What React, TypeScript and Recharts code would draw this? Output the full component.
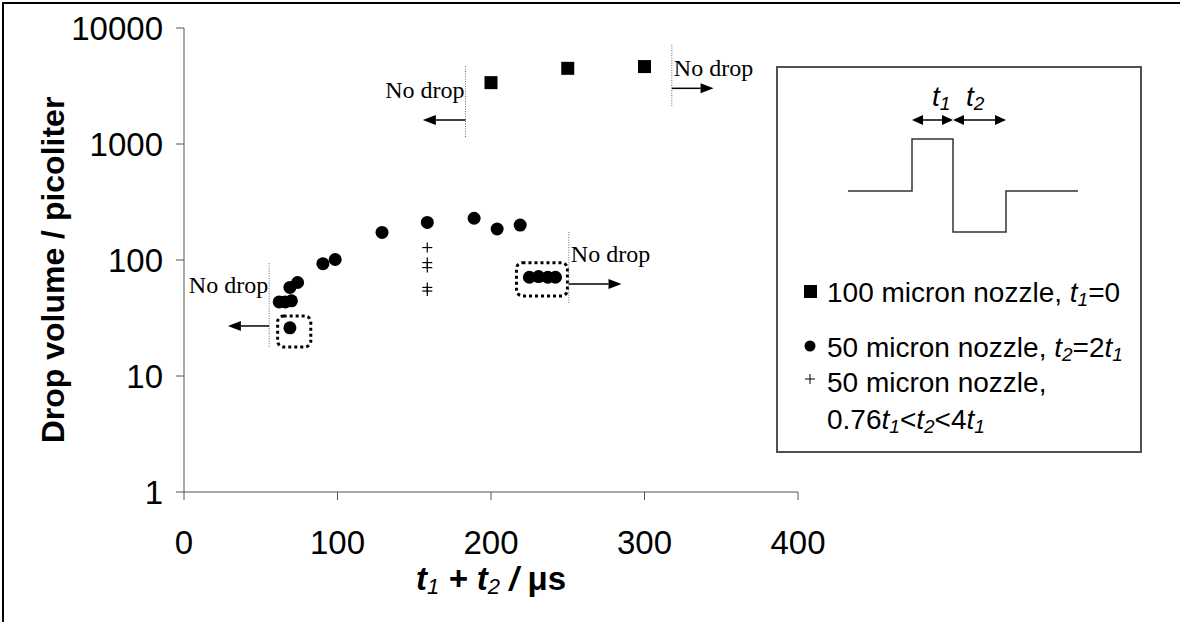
import React from 'react';
import {
  ScatterChart,
  Scatter,
  XAxis,
  YAxis,
  ReferenceLine,
  ReferenceArea,
  ReferenceDot,
  Label,
} from 'recharts';

// ---------- data ----------
const xTicks = [0, 100, 200, 300, 400];
const yTicks = [1, 10, 100, 1000, 10000];

// 100 micron nozzle, t1 = 0
const nozzle100 = [
  { t: 200, v: 3380 },
  { t: 250, v: 4490 },
  { t: 300, v: 4650 },
];

// 50 micron nozzle, t2 = 2 t1
const nozzle50 = [
  { t: 62, v: 43.5 },
  { t: 66, v: 43.5 },
  { t: 70, v: 44.5 },
  { t: 69, v: 58 },
  { t: 74, v: 64 },
  { t: 90.5, v: 93 },
  { t: 98.5, v: 101 },
  { t: 129, v: 173 },
  { t: 158.5, v: 211 },
  { t: 189, v: 229 },
  { t: 204, v: 185 },
  { t: 219, v: 200 },
  { t: 225, v: 71 },
  { t: 231, v: 72 },
  { t: 237, v: 71 },
  { t: 242, v: 71 },
  { t: 69, v: 26 },
];

// 50 micron nozzle, 0.76 t1 < t2 < 4 t1
const nozzle50Var = [
  { t: 158.5, v: 128 },
  { t: 158.5, v: 95 },
  { t: 158.5, v: 86 },
  { t: 158.5, v: 58 },
  { t: 158.5, v: 54 },
];

// "No drop" limits (data coordinates)
const noDropLimits = [
  { x: 55.5, yHigh: 94, yLow: 17.8, arrowY: 27, arrowTo: 28.6, textY: 61, dir: -1 },
  { x: 250.7, yHigh: 174, yLow: 42.6, arrowY: 62, arrowTo: 285, textY: 113, dir: 1 },
  { x: 183.4, yHigh: 4700, yLow: 1149, arrowY: 1610, arrowTo: 155.6, textY: 2920, dir: -1 },
  { x: 317.8, yHigh: 7134, yLow: 2092, arrowY: 3020, arrowTo: 345, textY: 4520, dir: 1 },
];
const noDropText = 'No drop';

// dotted highlight boxes (data coordinates)
const highlightBoxes = [
  { t1: 61, t2: 82.6, v1: 17.8, v2: 32.9 },
  { t1: 216.6, t2: 249.8, v1: 49, v2: 94.8 },
];

// legend text parts: [text, kind] kind: n normal, i italic, s subscript
const legendRows: { marker: string; lines: [string, string][][] }[] = [
  { marker: 'square', lines: [[['100 micron nozzle, ', 'n'], ['t', 'i'], ['1', 's'], ['=0', 'n']]] },
  {
    marker: 'circle',
    lines: [[['50 micron nozzle, ', 'n'], ['t', 'i'], ['2', 's'], ['=2', 'n'], ['t', 'i'], ['1', 's']]],
  },
  {
    marker: 'cross',
    lines: [
      [['50 micron nozzle,', 'n']],
      [['0.76', 'n'], ['t', 'i'], ['1', 's'], ['<', 'n'], ['t', 'i'], ['2', 's'], ['<4', 'n'], ['t', 'i'], ['1', 's']],
    ],
  },
];

// ---------- styling ----------
const SANS = '"Liberation Sans", Arial, Helvetica, sans-serif';
const SERIF = '"Liberation Serif", "Times New Roman", serif';
const AXIS = '#555';

// ---------- shapes ----------
const SquareShape = (p: any) => (
  <rect x={p.cx - 6.5} y={p.cy - 6.5} width={13} height={13} fill="#000" />
);
const CircleShape = (p: any) => <circle cx={p.cx} cy={p.cy} r={6.5} fill="#000" />;
const CrossShape = (p: any) => (
  <g stroke="#000" strokeWidth={1.2}>
    <line x1={p.cx - 5} y1={p.cy} x2={p.cx + 5} y2={p.cy} />
    <line x1={p.cx} y1={p.cy - 5} x2={p.cx} y2={p.cy + 5} />
  </g>
);

const ArrowShape = (p: any) => {
  const { x1, y1, x2, y2 } = p;
  const dir = x2 > x1 ? 1 : -1;
  const head = 13;
  return (
    <g>
      <line x1={x1} y1={y1} x2={x2 - dir * head} y2={y2} stroke="#000" strokeWidth={1.5} />
      <polygon
        points={`${x2},${y2} ${x2 - dir * head},${y2 - 5} ${x2 - dir * head},${y2 + 5}`}
        fill="#000"
      />
    </g>
  );
};

const DottedLineShape = (p: any) => (
  <line
    x1={p.x1}
    y1={p.y1}
    x2={p.x2}
    y2={p.y2}
    stroke="#666"
    strokeWidth={1}
    strokeDasharray="1 1.5"
  />
);

const makeTextShape = (dir: number) => (p: any) => (
  <text
    x={p.cx + (dir < 0 ? -1 : 2)}
    y={p.cy}
    textAnchor={dir < 0 ? 'end' : 'start'}
    dominantBaseline="central"
    fontFamily={SERIF}
    fontSize={24}
    fill="#000"
  >
    {noDropText}
  </text>
);

const BoxShape = (p: any) => (
  <rect
    x={p.x}
    y={p.y}
    width={p.width}
    height={p.height}
    rx={6}
    ry={6}
    fill="none"
    stroke="#000"
    strokeWidth={3}
    strokeDasharray="3 3"
  />
);

// ---------- legend ----------
const renderParts = (parts: [string, string][], fontSize: number) => {
  const out: React.ReactNode[] = [];
  let shifted = false;
  const sh = Math.round(fontSize * 0.25);
  parts.forEach(([txt, kind], i) => {
    if (kind === 's') {
      out.push(
        <tspan key={i} dy={shifted ? 0 : sh} fontSize={fontSize * 0.68} fontStyle="italic">
          {txt}
        </tspan>
      );
      shifted = true;
    } else {
      out.push(
        <tspan key={i} dy={shifted ? -sh : 0} fontStyle={kind === 'i' ? 'italic' : 'normal'}>
          {txt}
        </tspan>
      );
      shifted = false;
    }
  });
  return out;
};

const LegendBox = () => {
  const W = 366;
  const H = 387;
  const rowY = [226, 281, 316, 353];
  const fs = 28;
  const markers: Record<string, React.ReactNode> = {
    square: <rect x={28} y={rowY[0] - 7} width={13} height={13} fill="#000" />,
    circle: <circle cx={34} cy={rowY[1] - 1} r={5.5} fill="#000" />,
    cross: (
      <g stroke="#000" strokeWidth={1}>
        <line x1={29} y1={rowY[2] - 3} x2={39} y2={rowY[2] - 3} />
        <line x1={34} y1={rowY[2] - 8} x2={34} y2={rowY[2] + 2} />
      </g>
    ),
  };
  let line = 0;
  const rows: React.ReactNode[] = [];
  legendRows.forEach((r, ri) => {
    rows.push(<g key={'m' + ri}>{markers[r.marker]}</g>);
    r.lines.forEach((parts, li) => {
      rows.push(
        <text
          key={`t${ri}-${li}`}
          x={51}
          y={rowY[line]}
          dominantBaseline="central"
          fontFamily={SANS}
          fontSize={fs}
          fill="#000"
        >
          {renderParts(parts, fs)}
        </text>
      );
      line += 1;
    });
  });
  const ay = 54;
  const arrow = (xa: number, xb: number) => (
    <g>
      <line x1={xa + 10} y1={ay} x2={xb - 10} y2={ay} stroke="#000" strokeWidth={1.5} />
      <polygon points={`${xa},${ay} ${xa + 11},${ay - 5} ${xa + 11},${ay + 5}`} fill="#000" />
      <polygon points={`${xb},${ay} ${xb - 11},${ay - 5} ${xb - 11},${ay + 5}`} fill="#000" />
    </g>
  );
  return (
    <svg width={W} height={H} style={{ display: 'block' }}>
      <rect x={1} y={1} width={W - 2} height={H - 2} fill="#fff" stroke="#505050" strokeWidth={2} />
      <path
        d="M72,125 H136 V73 H177 V166 H230 V125 H302"
        fill="none"
        stroke="#333"
        strokeWidth={1.5}
      />
      {arrow(136, 177)}
      {arrow(177, 230)}
      <text x={156} y={30} dominantBaseline="central" fontFamily={SANS} fontSize={28}>
        {renderParts([['t', 'i'], ['1', 's']], 28)}
      </text>
      <text x={190} y={30} dominantBaseline="central" fontFamily={SANS} fontSize={28}>
        {renderParts([['t', 'i'], ['2', 's']], 28)}
      </text>
      {rows}
    </svg>
  );
};

// ---------- titles ----------
const XTitle = (p: any) => {
  const vb = p.viewBox || { x: 184, y: 492, width: 614 };
  const cx = vb.x + vb.width / 2;
  return (
    <text
      x={cx}
      y={vb.y + 86}
      textAnchor="middle"
      dominantBaseline="central"
      fontFamily={SANS}
      fontSize={33}
      fontWeight="bold"
      fontStyle="italic"
      fill="#000"
    >
      <tspan>t</tspan>
      <tspan dy={8} fontSize={22} fontWeight="normal">1</tspan>
      <tspan dy={-8}> + t</tspan>
      <tspan dy={8} fontSize={22} fontWeight="normal">2</tspan>
      <tspan dy={-8}> / </tspan>
      <tspan fontStyle="normal">μs</tspan>
    </text>
  );
};

const YTitle = (p: any) => {
  const vb = p.viewBox || { x: 84, y: 28, height: 464 };
  const cx = 53;
  const cy = vb.y + vb.height / 2 + 10;
  return (
    <text
      x={cx}
      y={cy}
      transform={`rotate(-90, ${cx}, ${cy})`}
      textAnchor="middle"
      dominantBaseline="central"
      fontFamily={SANS}
      fontSize={32}
      fontWeight="bold"
      fill="#000"
    >
      Drop volume / picoliter
    </text>
  );
};

export default function App() {
  return (
    <div style={{ position: 'absolute', left: 0, top: 0, width: 1180, height: 622, background: '#fff' }}>
      <div
        style={{
          position: 'absolute',
          left: 2,
          top: 2,
          width: 1180,
          height: 622,
          borderLeft: '2px solid #000',
          borderTop: '2px solid #000',
          boxSizing: 'border-box',
          pointerEvents: 'none',
        }}
      />
      <ScatterChart
        width={1180}
        height={622}
        margin={{ top: 28, right: 382, bottom: 70, left: 84 }}
      >
        <XAxis
          dataKey="t"
          type="number"
          domain={[0, 400]}
          ticks={xTicks}
          interval={0}
          height={60}
          stroke={AXIS}
          tickSize={8}
          tickMargin={31}
          tick={{ fontSize: 33, fill: '#000', fontFamily: SANS }}
        >
          <Label content={<XTitle />} />
        </XAxis>
        <YAxis
          dataKey="v"
          type="number"
          scale="log"
          domain={[1, 10000]}
          ticks={yTicks}
          interval={0}
          allowDataOverflow
          width={100}
          stroke={AXIS}
          tickSize={8}
          tickMargin={13}
          tick={{ fontSize: 33, fill: '#000', fontFamily: SANS }}
        >
          <Label content={<YTitle />} />
        </YAxis>
        {noDropLimits.map((l, i) => (
          <ReferenceLine
            key={'dl' + i}
            segment={[
              { x: l.x, y: l.yHigh },
              { x: l.x, y: l.yLow },
            ]}
            shape={DottedLineShape}
          />
        ))}
        {noDropLimits.map((l, i) => (
          <ReferenceLine
            key={'ar' + i}
            segment={[
              { x: l.x, y: l.arrowY },
              { x: l.arrowTo, y: l.arrowY },
            ]}
            shape={ArrowShape}
          />
        ))}
        {noDropLimits.map((l, i) => (
          <ReferenceDot key={'tx' + i} x={l.x} y={l.textY} r={0} shape={makeTextShape(l.dir)} />
        ))}
        {highlightBoxes.map((b, i) => (
          <ReferenceArea key={'hb' + i} x1={b.t1} x2={b.t2} y1={b.v1} y2={b.v2} shape={BoxShape} />
        ))}
        <Scatter name="100 micron nozzle" data={nozzle100} shape={SquareShape} isAnimationActive={false} />
        <Scatter name="50 micron nozzle" data={nozzle50} shape={CircleShape} isAnimationActive={false} />
        <Scatter name="50 micron nozzle var" data={nozzle50Var} shape={CrossShape} isAnimationActive={false} />
      </ScatterChart>
      <div style={{ position: 'absolute', left: 776, top: 66 }}>
        <LegendBox />
      </div>
    </div>
  );
}
